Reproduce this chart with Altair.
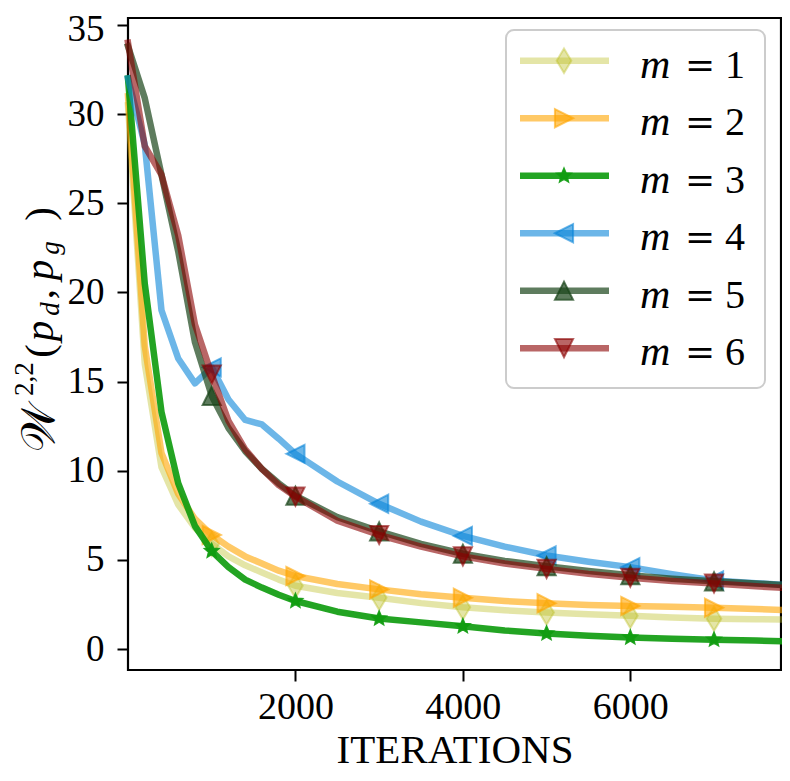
import math
import altair as alt
import pandas as pd

# ---------------- data ----------------
iterations = [0, 200, 400, 600, 800, 1000, 1200, 1400, 1600, 1800, 2000,
              2500, 3000, 3500, 4000, 4500, 5000, 5500, 6000, 6500, 7000, 7500, 7800]

m1 = [30.5, 16.0, 10.2, 8.1, 6.8, 5.9, 5.2, 4.7, 4.3, 3.9, 3.55,
      3.15, 2.88, 2.58, 2.35, 2.18, 2.05, 1.95, 1.87, 1.78, 1.71, 1.68, 1.66]
m2 = [31.0, 17.0, 11.0, 8.7, 7.3, 6.4, 5.75, 5.2, 4.8, 4.4, 4.1,
      3.65, 3.35, 3.08, 2.88, 2.7, 2.57, 2.48, 2.42, 2.37, 2.32, 2.25, 2.2]
m3 = [32.0, 20.5, 13.3, 9.3, 6.9, 5.5, 4.6, 3.9, 3.45, 3.05, 2.7,
      2.1, 1.72, 1.5, 1.28, 1.05, 0.88, 0.75, 0.65, 0.58, 0.53, 0.48, 0.45]
m4 = [32.0, 28.3, 19.0, 16.3, 14.9, 15.8, 14.0, 12.85, 12.6, 11.8, 10.95,
      9.4, 8.15, 7.15, 6.35, 5.75, 5.25, 4.9, 4.6, 4.2, 3.85, 3.7, 3.62]
m5 = [33.8, 30.9, 26.6, 22.3, 17.2, 14.2, 12.4, 11.1, 10.1, 9.3, 8.6,
      7.4, 6.6, 5.9, 5.35, 4.95, 4.65, 4.38, 4.15, 3.95, 3.8, 3.68, 3.6]
m6 = [34.0, 28.2, 26.6, 23.2, 18.2, 15.4, 12.8, 11.2, 10.1, 9.2, 8.55,
      7.2, 6.4, 5.75, 5.2, 4.8, 4.5, 4.22, 4.0, 3.82, 3.68, 3.52, 3.45]

series_names = ["1", "2", "3", "4", "5", "6"]
series_values = [m1, m2, m3, m4, m5, m6]
marker_iterations = [1000, 2000, 3000, 4000, 5000, 6000, 7000]

x_ticks = [2000, 4000, 6000]
y_ticks = [0, 5, 10, 15, 20, 25, 30, 35]

# ---------------- styles ----------------
def star_path(outer=1.0, inner=0.45):
    pts = []
    for k in range(10):
        a = math.radians(-90 + 36 * k)
        r = outer if k % 2 == 0 else inner
        pts.append(f"{r*math.cos(a):.3f},{r*math.sin(a):.3f}")
    return "M" + "L".join(pts) + "Z"

THIN_DIAMOND = "M0,-1L0.6,0L0,1L-0.6,0Z"
TRI_RIGHT = "M1,0L-1,-1L-1,1Z"
TRI_LEFT = "M-1,0L1,-1L1,1Z"
TRI_UP = "M0,-1L1,1L-1,1Z"
TRI_DOWN = "M0,1L1,-1L-1,-1Z"

styles = [
    dict(color="#bcbd22", opacity=0.4, shape=THIN_DIAMOND, size=600),
    dict(color="#ffa500", opacity=0.6, shape=TRI_RIGHT, size=330),
    dict(color="#109c10", opacity=0.92, shape=star_path(), size=190),
    dict(color="#0a85d8", opacity=0.6, shape=TRI_LEFT, size=330),
    dict(color="#1a451a", opacity=0.7, shape=TRI_UP, size=330),
    dict(color="#8b0000", opacity=0.6, shape=TRI_DOWN, size=330),
]

SERIF = "Liberation Serif"
LW = 6.5
PAD_L, PAD_T, PAD_R = 120, 10, 1
PX0, PY0 = 8 + PAD_L, 8 + PAD_T  # page position of the plot origin
W, H = 653, 652
SVG_H = 763

x_enc = alt.X("iter:Q",
              scale=alt.Scale(domain=[0, 7800], nice=False, zero=False),
              axis=alt.Axis(values=x_ticks, title="ITERATIONS", format="d",
                            labelPadding=7, titlePadding=4, labelFontSize=38))
y_enc = alt.Y("value:Q",
              scale=alt.Scale(domain=[-1.17, 35.39], nice=False, zero=False),
              axis=alt.Axis(values=y_ticks, title=None, labelPadding=13, labelFontSize=37,
                            labelOffset={"condition": {"test": "datum.value == 35", "value": 5},
                                         "value": 0}))

layers = []
for name, vals, st in zip(series_names, series_values, styles):
    df = pd.DataFrame({"iter": iterations, "value": vals})
    dfm = df[df["iter"].isin(marker_iterations)]
    layers.append(
        alt.Chart(df).mark_line(color=st["color"], opacity=st["opacity"], strokeWidth=LW,
                                strokeJoin="round", strokeCap="square")
        .encode(x=x_enc, y=y_enc)
    )
    layers.append(
        alt.Chart(dfm).mark_point(shape=st["shape"], size=st["size"], filled=True,
                                  fill=st["color"], stroke=st["color"], strokeWidth=2,
                                  fillOpacity=st["opacity"], strokeOpacity=st["opacity"], opacity=1)
        .encode(x=x_enc, y=y_enc)
    )

one = pd.DataFrame({"a": [0]})

# ---------------- legend (annotation) ----------------
layers.append(
    alt.Chart(one).mark_rect(fill="white", fillOpacity=0.8, stroke="#cccccc", strokeWidth=2,
                             cornerRadius=8)
    .encode(x=alt.value(506 - PX0), x2=alt.value(765 - PX0),
            y=alt.value(30 - PY0), y2=alt.value(388 - PY0))
)
for i, (name, st) in enumerate(zip(series_names, styles)):
    ry = 60.7 + 57.5 * i - PY0
    layers.append(
        alt.Chart(one).mark_rule(color=st["color"], opacity=st["opacity"], strokeWidth=LW,
                                 strokeCap="butt")
        .encode(x=alt.value(520 - PX0), x2=alt.value(609 - PX0), y=alt.value(ry))
    )
    layers.append(
        alt.Chart(one).mark_point(shape=st["shape"], size=st["size"], filled=True,
                                  fill=st["color"], stroke=st["color"], strokeWidth=2,
                                  fillOpacity=st["opacity"], strokeOpacity=st["opacity"], opacity=1)
        .encode(x=alt.value(564 - PX0), y=alt.value(ry))
    )
    layers.append(
        alt.Chart(one).mark_text(text="m", font=SERIF, fontSize=42, fontStyle="italic",
                                 align="left", baseline="alphabetic", color="black")
        .encode(x=alt.value(640 - PX0), y=alt.value(ry + 17))
    )
    layers.append(
        alt.Chart(one).mark_text(text="=", font="DejaVu Serif", fontSize=36,
                                 align="center", baseline="alphabetic", color="black")
        .encode(x=alt.value(700 - PX0), y=alt.value(ry + 16))
    )
    layers.append(
        alt.Chart(one).mark_text(text=name, font=SERIF, fontSize=40,
                                 align="left", baseline="alphabetic", color="black")
        .encode(x=alt.value(725 - PX0), y=alt.value(ry + 17))
    )

# ---------------- y-axis title pieces: W^{2,2}(p_d, p_g) ----------------
title_pieces = [
    # text, size, italic, page y centre, page x baseline
    ("𝒲", 46, False, 428, 54),
    ("2,2", 27, False, 379, 33),
    ("(", 41, False, 351, 53),
    ("p", 41, True, 331, 53),
    ("d", 27, True, 309, 59),
    (",", 41, False, 294, 53),
    ("p", 41, True, 270, 53),
    ("g", 27, True, 248, 59),
    (")", 41, False, 214, 53),
]
for txt, size, ital, yc, xb in title_pieces:
    kw = dict(fontStyle="italic") if ital else {}
    layers.append(
        alt.Chart(one).mark_text(text=txt, font=SERIF, fontSize=size, angle=270,
                                 align="center", baseline="alphabetic", color="black", **kw)
        .encode(x=alt.value(xb - PX0), y=alt.value(yc - PY0))
    )

chart = (
    alt.layer(*layers)
    .properties(width=W, height=H,
                autosize=alt.AutoSizeParams(type="none"),
                padding={"left": PAD_L, "top": PAD_T, "right": PAD_R, "bottom": SVG_H - PAD_T - H})
    .configure_view(stroke="black", strokeWidth=2.2)
    .configure_axis(grid=False, domain=False, tickColor="black", tickWidth=2, tickSize=11,
                    labelFont=SERIF, labelColor="black",
                    titleFont=SERIF, titleFontSize=41, titleColor="black",
                    titleFontWeight="normal")
)

chart.save("out.html", embed_options={"renderer": "svg", "actions": False})
